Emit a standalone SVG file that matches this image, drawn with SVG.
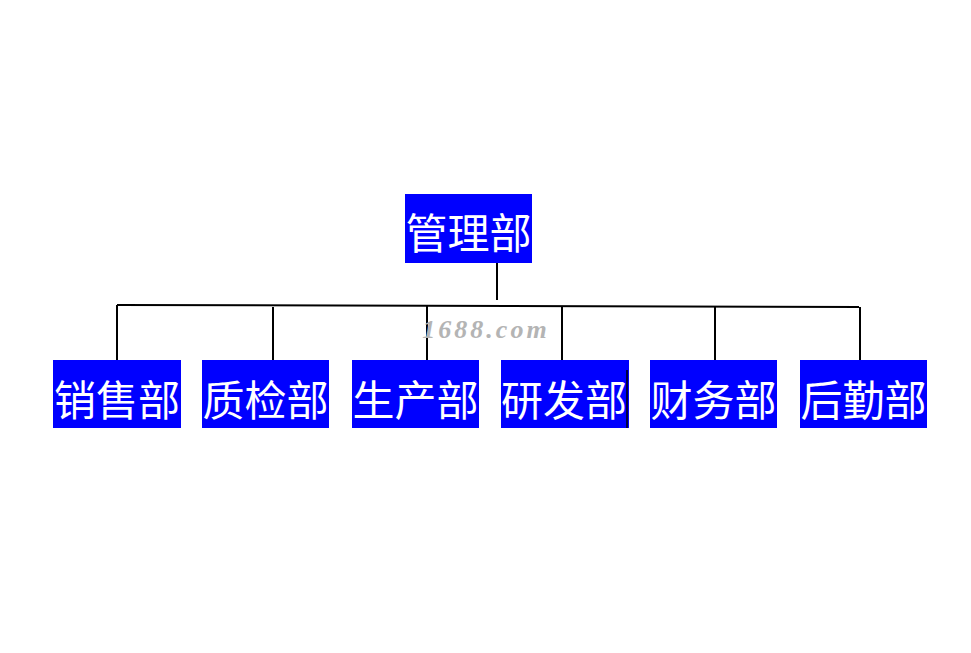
<svg xmlns="http://www.w3.org/2000/svg" width="971" height="653" viewBox="0 0 971 653">
<style>
.box{fill:#0000ff}
.lbl{fill:#ffffff;font-family:"Noto Sans CJK SC","Noto Sans CJK JP",sans-serif;font-size:42px;text-anchor:middle}
.ln{stroke:#000;stroke-width:2;fill:none}
</style>
<rect width="971" height="653" fill="#ffffff"/>
<g id="connectors">
<path class="ln" d="M497,263 V300"/>
<path class="ln" d="M117,305 L859,307"/>
<path class="ln" d="M117,305 V360"/>
<path class="ln" d="M273,307 V360"/>
<path class="ln" d="M427,306 V360"/>
<path class="ln" d="M562,306 V360"/>
<path class="ln" d="M715,307 V360"/>
<path class="ln" d="M860,307 V360"/>
</g>
<text x="486" y="338" font-family="'Liberation Serif',serif" font-size="26" font-style="italic" font-weight="bold" letter-spacing="3" fill="#b4b4b4" text-anchor="middle">1688.com</text>
<g id="n0"><rect class="box" x="405" y="194" width="127" height="69"/><text class="lbl" x="468.5" y="249">管理部</text></g>
<g id="n1"><rect class="box" x="53" y="360" width="128" height="68"/><text class="lbl" x="117" y="416">销售部</text></g>
<g id="n2"><rect class="box" x="202" y="360" width="127" height="68"/><text class="lbl" x="265.5" y="416">质检部</text></g>
<g id="n3"><rect class="box" x="352" y="360" width="127" height="68"/><text class="lbl" x="415.5" y="416">生产部</text></g>
<g id="n4"><rect class="box" x="501" y="360" width="128" height="68"/><text class="lbl" x="564" y="416">研发部</text><path d="M627,370 V428" stroke="#000040" stroke-width="2"/></g>
<g id="n5"><rect class="box" x="650" y="360" width="127" height="68"/><text class="lbl" x="713.5" y="416">财务部</text></g>
<g id="n6"><rect class="box" x="800" y="360" width="127" height="68"/><text class="lbl" x="863.5" y="416">后勤部</text></g>
</svg>
